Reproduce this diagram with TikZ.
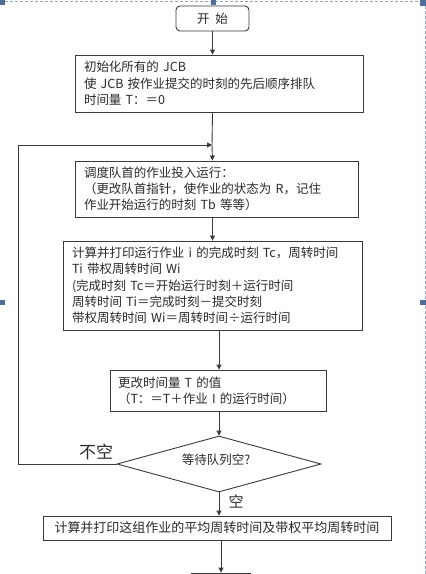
\documentclass[tikz,border=0pt]{standalone}
\usepackage{fontspec}
\setmainfont{Noto Sans CJK SC}
\usetikzlibrary{arrows.meta,shapes.geometric}
\definecolor{ln}{HTML}{3A3A3A}
\definecolor{tx}{HTML}{2A2A2A}
\definecolor{hd}{HTML}{4F6D96}
\definecolor{bd}{HTML}{8FA6C8}
\tikzset{
  box/.style={draw=ln, line width=0.9pt, rectangle, align=left, text=tx, inner ysep=0pt,
    font=\fontsize{12.5}{16.3}\selectfont},
  arr/.style={draw=ln, line width=0.9pt, -{Triangle[width=5pt,length=5pt]}},
  plain/.style={draw=ln, line width=0.9pt},
  handle/.style={fill=hd, draw=none},
  lbl/.style={text=tx, inner sep=0pt}
}
\begin{document}
\begin{tikzpicture}[x=1pt,y=-1pt]
\clip (0,0) rectangle (426,574);
\fill[white] (0,0) rectangle (426,574);
% selection frame of the source document
\draw[bd, dashed, dash pattern=on 3pt off 2pt, line width=0.8pt] (5,1) -- (420,1);
\draw[bd, dashed, dash pattern=on 3pt off 2pt, line width=0.8pt] (425,6) -- (425,574);
\fill[handle] (0,0) rectangle (5,5);
\fill[handle] (211,0) rectangle (216,5);
\fill[handle] (420,0) rectangle (426,6);
\fill[handle] (0,300) rectangle (5,305);
\fill[handle] (420,300) rectangle (426,305);

\node[box, rounded corners=4pt, align=center, minimum width=73pt, minimum height=25pt, inner sep=0pt] (start) at (212.5,18.5) {开\hspace{0.45em}始};
\node[box, minimum width=288pt, minimum height=57pt, inner xsep=9pt, text width=270pt] (b1) at (219,83.5)
  {初始化所有的 JCB\\使 JCB 按作业提交的时刻的先后顺序排队\\时间量 T：＝0};
\node[box, minimum width=283pt, minimum height=56pt, inner xsep=9pt, text width=265pt] (b2) at (216.5,189)
  {调度队首的作业投入运行：\\（更改队首指针，使作业的状态为 R，记住\\作业开始运行的时刻 Tb 等等）};
\node[box, minimum width=299pt, minimum height=89pt, inner xsep=9pt, text width=281pt] (b3) at (212.5,285.5)
  {计算并打印运行作业 i 的完成时刻 Tc，周转时间\\Ti 带权周转时间 Wi\\(完成时刻 Tc＝开始运行时刻＋运行时间\\周转时间 Ti＝完成时刻－提交时刻\\带权周转时间 Wi＝周转时间÷运行时间};
\node[box, minimum width=216pt, minimum height=41pt, inner xsep=8pt, text width=200pt] (b4) at (218,390.5)
  {更改时间量 T 的值\\（T：＝T＋作业 I 的运行时间）};
\node[draw=ln, line width=0.9pt, diamond, minimum width=204pt, minimum height=56pt, inner sep=0pt] (dia) at (219,464) {};
\node[lbl, font=\fontsize{12.5}{14}\selectfont] (diat) at (216,460) {等待队列空?};
\node[box, align=center, minimum width=348pt, minimum height=24pt, inner xsep=4pt, font=\fontsize{13}{16}\selectfont] (b5) at (217,528)
  {计算并打印这组作业的平均周转时间及带权平均周转时间};
\node[box, minimum width=59pt, minimum height=24pt] (fin) at (221,585) {};

\coordinate (join) at (212,145);
\coordinate (lc) at (18,464);

\draw[arr] (start.south) -- (start.south |- b1.north);
\draw[plain] (b1.south -| start) -- (join);
\draw[arr] (join) -- (b2.north -| start);
\draw[arr] (b2.south -| start) -- (b3.north -| start);
\draw[arr] (b3.south -| dia) -- (b4.north -| dia);
\draw[arr] (b4.south -| dia) -- (dia.north);
\draw[arr] (dia.west) -- (lc) |- (join);
\draw[arr] (dia.south) -- (b5.north -| dia);
\draw[arr] (b5.south -| fin) -- (fin.north);

\node[lbl, font=\fontsize{17}{18}\selectfont] (nk) at (96,452) {不空};
\node[lbl, font=\fontsize{15}{16}\selectfont] (k) at (236,501) {空};
\end{tikzpicture}
\end{document}
